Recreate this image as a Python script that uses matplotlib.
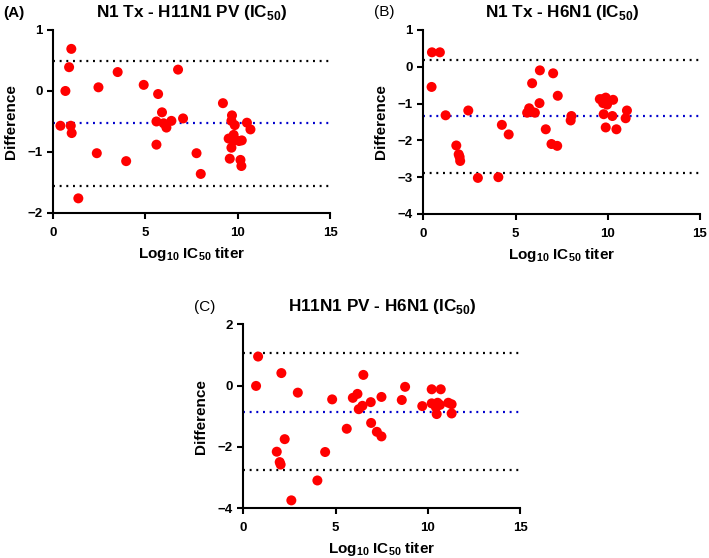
import matplotlib.pyplot as plt

plt.rcParams['font.family'] = ['Liberation Sans', 'DejaVu Sans']
plt.rcParams['mathtext.fontset'] = 'custom'
plt.rcParams['mathtext.bf'] = 'Liberation Sans:bold'
plt.rcParams['mathtext.rm'] = 'Liberation Sans'
plt.rcParams['lines.scale_dashes'] = False

# (A) N1 Tx - H11N1 PV
a_x = [0.4, 0.99, 0.87, 0.67, 0.96, 1.01, 1.37, 2.37, 2.46, 3.5, 3.96, 4.91,
       5.69, 5.6, 5.6, 5.9, 5.99, 6.14, 6.41, 6.77, 7.04, 7.77, 8.0, 9.2,
       9.69, 9.66, 9.84, 10.5, 10.69, 9.51, 9.78, 9.75, 10.07, 10.22, 9.66,
       9.57, 10.15, 10.2]
a_y = [-0.57, 0.69, 0.39, 0.0, -0.57, -0.69, -1.76, -1.02, 0.06, 0.31, -1.15, 0.10,
       -0.05, -0.5, -0.88, -0.35, -0.53, -0.6, -0.49, 0.35, -0.45, -1.02, -1.36, -0.2,
       -0.40, -0.49, -0.56, -0.52, -0.63, -0.78, -0.72, -0.82, -0.82, -0.81, -0.93,
       -1.11, -1.13, -1.23]
a_lines = [0.49, -0.52, -1.55]

# (B) N1 Tx - H6N1
b_x = [0.47, 0.9, 0.45, 1.21, 2.44, 1.79, 1.92, 1.97, 2.0, 2.96, 4.07, 4.26,
       4.63, 6.32, 7.04, 5.9, 7.29, 6.3, 5.74, 5.63, 5.87, 6.05, 8.03, 7.99,
       6.64, 6.95, 7.26, 9.57, 9.75, 9.89, 9.75, 9.96, 10.29, 9.78, 10.25, 9.89,
       10.47, 11.04, 10.97]
b_y = [0.39, 0.39, -0.55, -1.32, -1.19, -2.14, -2.38, -2.45, -2.56, -3.02, -3.0, -1.58,
       -1.84, -0.10, -0.18, -0.45, -0.79, -0.99, -1.13, -1.25, -1.22, -1.25, -1.34, -1.46,
       -1.70, -2.10, -2.15, -0.88, -0.88, -0.84, -0.99, -1.03, -0.9, -1.29, -1.34, -1.65,
       -1.70, -1.19, -1.40]
b_lines = [0.19, -1.35, -2.88]

# (C) H11N1 PV - H6N1
c_x = [0.8, 0.69, 2.06, 2.24, 1.81, 1.97, 2.02, 2.6, 2.95, 4.01, 4.43, 4.81,
       5.6, 5.93, 6.18, 6.25, 6.45, 6.5, 6.9, 6.92, 7.23, 7.48, 7.48, 8.58,
       8.76, 9.69, 10.2, 10.69, 10.2, 10.52, 10.65, 10.43, 11.1, 11.28, 11.28,
       10.47]
c_y = [0.95, -0.01, 0.41, -1.75, -2.16, -2.5, -2.58, -3.75, -0.23, -3.1, -2.17, -0.45,
       -1.41, -0.4, -0.27, -0.77, -0.66, 0.35, -0.54, -1.22, -1.51, -1.66, -0.37, -0.47,
       -0.04, -0.67, -0.12, -0.12, -0.58, -0.56, -0.63, -0.71, -0.56, -0.61, -0.91,
       -0.93]
c_lines = [1.08, -0.85, -2.77]

xlab = r'Log$_{\mathbf{10}}$ IC$_{\mathbf{50}}$ titer'

fig = plt.figure(figsize=(7.09, 5.58), dpi=100)

panels = [
    ([0.0748, 0.6183, 0.3907, 0.328], a_x, a_y, a_lines, (-2, 1), [-2, -1, 0, 1],
     r'N1 Tx - H11N1 PV (IC$_{\mathbf{50}}$)', '(A)', 'bold'),
    ([0.597, 0.6165, 0.3903, 0.330], b_x, b_y, b_lines, (-4, 1), [-4, -3, -2, -1, 0, 1],
     r'N1 Tx - H6N1 (IC$_{\mathbf{50}}$)', '(B)', 'normal'),
    ([0.3432, 0.0896, 0.3907, 0.329], c_x, c_y, c_lines, (-4, 2), [-4, -2, 0, 2],
     r'H11N1 PV - H6N1 (IC$_{\mathbf{50}}$)', '(C)', 'normal'),
]

for rect, xs, ys, lines, ylim, yticks, title, tag, tagw in panels:
    ax = fig.add_axes(rect)
    for i, v in enumerate(lines):
        ax.axhline(v, color='#0000cc' if i == 1 else 'black', lw=1.6,
                   linestyle=(0, (1.4, 3.4)), zorder=1)
    ax.scatter(xs, ys, s=52, color='#ff0000', edgecolors='none', zorder=3, clip_on=False)
    ax.set_xlim(0, 15)
    ax.set_ylim(*ylim)
    ax.set_xticks([0, 5, 10, 15])
    ax.set_yticks(yticks)
    ax.spines['top'].set_visible(False)
    ax.spines['right'].set_visible(False)
    for s in ('left', 'bottom'):
        ax.spines[s].set_linewidth(1.5)
    ax.tick_params(width=1.5, length=4, labelsize=9.5)
    ax.tick_params(axis='x', pad=6)
    for lbl in ax.get_xticklabels() + ax.get_yticklabels():
        lbl.set_fontweight('bold')
    ax.set_xlabel(xlab, fontsize=11, fontweight='bold')
    ax.xaxis.set_label_coords(0.5, -0.175)
    ax.set_ylabel('Difference', fontsize=11, fontweight='bold')
    ax.yaxis.set_label_coords(-0.128, 0.5)
    ax.text(0.5, 1.095, title, transform=ax.transAxes, ha='center', va='center',
            fontsize=12.3, fontweight='bold')
    ax.text(-0.14, 1.095, tag, transform=ax.transAxes, ha='center', va='center',
            fontsize=11, fontweight=tagw)

fig.savefig('out.png', dpi=100)
